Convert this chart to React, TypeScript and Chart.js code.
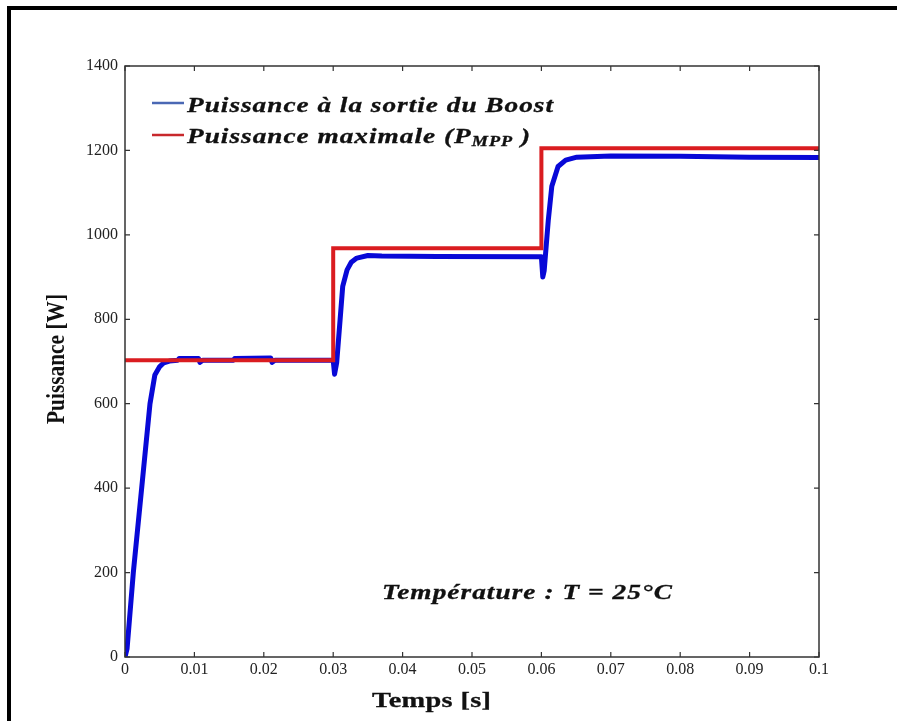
import React, { useEffect, useRef } from 'react';
import { Chart, registerables } from 'chart.js';

Chart.register(...registerables);

// ---- Data ----
const boostTime = [
  0, 0.0003, 0.0012, 0.0024, 0.0036, 0.0043, 0.005, 0.0056, 0.0064, 0.0076, 0.0078, 0.0106, 0.0108, 0.0112,
  0.0156, 0.0158, 0.021, 0.0212, 0.0216, 0.025, 0.03, 0.0302, 0.0305, 0.031, 0.03137, 0.032, 0.0326, 0.0334,
  0.035, 0.037, 0.045, 0.06, 0.0602, 0.0604, 0.061, 0.0615, 0.0624, 0.0635, 0.0651, 0.07, 0.08, 0.09, 0.1,
];
const boostPower = [
  0, 20, 200, 400, 600, 668, 688, 697, 701, 703, 707, 707, 698, 703,
  703, 707, 708, 698, 703, 703, 703, 670, 697, 800, 878, 917, 935, 945,
  951, 950, 949, 948, 900, 915, 1036, 1115, 1162, 1177, 1184, 1187, 1186, 1184, 1183,
];
const mppTime = [0, 0.03, 0.03, 0.06, 0.06, 0.1];
const mppPower = [703, 703, 968, 968, 1205, 1205];

const xTickValues = [0, 0.01, 0.02, 0.03, 0.04, 0.05, 0.06, 0.07, 0.08, 0.09, 0.1];
const xTickLabels = ['0', '0.01', '0.02', '0.03', '0.04', '0.05', '0.06', '0.07', '0.08', '0.09', '0.1'];
const yTickValues = [0, 200, 400, 600, 800, 1000, 1200, 1400];
const yTickLabels = ['0', '200', '400', '600', '800', '1000', '1200', '1400'];

const legendBoost = 'Puissance à la sortie du Boost';
const legendMppMain = 'Puissance maximale (P';
const legendMppSub = 'MPP';
const legendMppEnd = ' )';
const xTitle = 'Temps [s]';
const yTitle = 'Puissance [W]';
const noteText = 'Température : T = 25°C';

const SERIF = '"Liberation Serif", "Times New Roman", "DejaVu Serif", serif';
const BLUE = 'rgb(8,8,215)';
const RED = 'rgb(218,28,32)';

type Seg = { text: string; font: string; dy: number };

function drawStretched(
  ctx: CanvasRenderingContext2D,
  segs: Seg[],
  x: number,
  baseline: number,
  targetWidth: number,
  sx: number,
  color: string
) {
  const c: any = ctx;
  let natural = 0;
  let n = 0;
  const widths: number[] = [];
  c.letterSpacing = '0px';
  segs.forEach((s) => {
    ctx.font = s.font;
    const w = ctx.measureText(s.text).width;
    widths.push(w);
    natural += w;
    n += Array.from(s.text).length;
  });
  const spacing = Math.max(0, (targetWidth / sx - natural) / Math.max(1, n - 1));
  ctx.save();
  ctx.translate(x, baseline);
  ctx.scale(sx, 1);
  ctx.fillStyle = color;
  ctx.strokeStyle = color;
  ctx.lineWidth = 0.3;
  ctx.textBaseline = 'alphabetic';
  ctx.textAlign = 'left';
  let cx = 0;
  segs.forEach((s, i) => {
    ctx.font = s.font;
    c.letterSpacing = spacing + 'px';
    ctx.fillText(s.text, cx, s.dy);
    ctx.strokeText(s.text, cx, s.dy);
    cx += widths[i] + spacing * Array.from(s.text).length;
  });
  c.letterSpacing = '0px';
  ctx.restore();
}

const decorPlugin = {
  id: 'decor',
  beforeDraw(chart: any) {
    const ctx: CanvasRenderingContext2D = chart.ctx;
    ctx.save();
    ctx.fillStyle = '#ffffff';
    ctx.fillRect(0, 0, chart.width, chart.height);
    ctx.fillStyle = '#000000';
    ctx.fillRect(7, 6, chart.width - 7, 4);
    ctx.fillRect(7, 6, 4, chart.height - 6);
    ctx.restore();
  },
  afterDraw(chart: any) {
    const ctx: CanvasRenderingContext2D = chart.ctx;
    const a = chart.chartArea;
    const xs = chart.scales.x;
    const ys = chart.scales.y;
    ctx.save();
    // axes box
    ctx.strokeStyle = '#333333';
    ctx.lineWidth = 1.5;
    ctx.strokeRect(a.left, a.top, a.right - a.left, a.bottom - a.top);
    // inward ticks on all four sides
    ctx.lineWidth = 1.2;
    ctx.beginPath();
    xTickValues.forEach((v) => {
      const px = xs.getPixelForValue(v);
      ctx.moveTo(px, a.bottom);
      ctx.lineTo(px, a.bottom - 5);
      ctx.moveTo(px, a.top);
      ctx.lineTo(px, a.top + 5);
    });
    yTickValues.forEach((v) => {
      const py = ys.getPixelForValue(v);
      ctx.moveTo(a.left, py);
      ctx.lineTo(a.left + 5, py);
      ctx.moveTo(a.right, py);
      ctx.lineTo(a.right - 5, py);
    });
    ctx.stroke();

    // legend
    ctx.lineWidth = 2.5;
    ctx.strokeStyle = '#4a68b4';
    ctx.beginPath();
    ctx.moveTo(152, 103);
    ctx.lineTo(184, 103);
    ctx.stroke();
    ctx.strokeStyle = '#c8282c';
    ctx.beginPath();
    ctx.moveTo(152, 135);
    ctx.lineTo(184, 135);
    ctx.stroke();

    const fLeg = `italic bold 21px ${SERIF}`;
    const fSub = `italic bold 14px ${SERIF}`;
    drawStretched(ctx, [{ text: legendBoost, font: fLeg, dy: 0 }], 187, 112, 366, 1.3, '#111111');
    drawStretched(
      ctx,
      [
        { text: legendMppMain, font: fLeg, dy: 0 },
        { text: legendMppSub, font: fSub, dy: 3 },
        { text: legendMppEnd, font: fLeg, dy: 0 },
      ],
      187,
      143,
      343,
      1.3,
      '#111111'
    );

    // annotation
    drawStretched(ctx, [{ text: noteText, font: `italic bold 21px ${SERIF}`, dy: 0 }], 382, 599, 290, 1.3, '#111111');

    // x title
    drawStretched(ctx, [{ text: xTitle, font: `bold 21px ${SERIF}`, dy: 0 }], 372, 707, 119, 1.35, '#111111');

    // y title (rotated)
    ctx.save();
    ctx.translate(64, 424);
    ctx.rotate(-Math.PI / 2);
    ctx.scale(1, 1.2);
    ctx.font = `bold 21px ${SERIF}`;
    ctx.fillStyle = '#111111';
    ctx.textAlign = 'left';
    ctx.textBaseline = 'alphabetic';
    const w = ctx.measureText(yTitle).width;
    ctx.scale(130 / w, 1);
    ctx.fillText(yTitle, 0, 0);
    ctx.restore();

    ctx.restore();
  },
};

export default function App() {
  const ref = useRef<HTMLCanvasElement | null>(null);

  useEffect(() => {
    document.body.style.margin = '0';
    const canvas = ref.current;
    if (!canvas) return;
    const boostData = boostTime.map((t, i) => ({ x: t, y: boostPower[i] }));
    const mppData = mppTime.map((t, i) => ({ x: t, y: mppPower[i] }));
    const tickFont = { family: SERIF, size: 16 };
    const chart = new Chart(canvas, {
      type: 'line',
      data: {
        datasets: [
          {
            label: 'Puissance maximale (PMPP)',
            data: mppData,
            borderColor: RED,
            borderWidth: 4,
            pointRadius: 0,
            tension: 0,
            borderJoinStyle: 'miter',
            order: 1,
          },
          {
            label: 'Puissance à la sortie du Boost',
            data: boostData,
            borderColor: BLUE,
            borderWidth: 5,
            pointRadius: 0,
            tension: 0,
            borderJoinStyle: 'round',
            order: 2,
          },
        ],
      },
      options: {
        animation: false,
        responsive: false,
        devicePixelRatio: 1,
        layout: { padding: { left: 0, right: 78, top: 66, bottom: 0 } },
        plugins: {
          legend: { display: false },
          tooltip: { enabled: false },
          title: { display: false },
        },
        scales: {
          x: {
            type: 'linear',
            min: 0,
            max: 0.1,
            afterBuildTicks: (scale: any) => {
              scale.ticks = xTickValues.map((v) => ({ value: v }));
            },
            afterFit: (scale: any) => {
              scale.height = 64;
            },
            grid: { display: false, drawTicks: false },
            border: { display: false },
            ticks: {
              autoSkip: false,
              maxRotation: 0,
              padding: 3,
              color: '#222222',
              font: tickFont,
              callback: (_v: any, i: number) => xTickLabels[i],
            },
          },
          y: {
            type: 'linear',
            min: 0,
            max: 1400,
            afterBuildTicks: (scale: any) => {
              scale.ticks = yTickValues.map((v) => ({ value: v }));
            },
            afterFit: (scale: any) => {
              scale.width = 125;
            },
            grid: { display: false, drawTicks: false },
            border: { display: false },
            ticks: {
              autoSkip: false,
              padding: 7,
              color: '#222222',
              font: tickFont,
              callback: (_v: any, i: number) => yTickLabels[i],
            },
          },
        },
      } as any,
      plugins: [decorPlugin],
    });
    return () => chart.destroy();
  }, []);

  return <canvas ref={ref} width={897} height={721} style={{ display: 'block' }} />;
}
